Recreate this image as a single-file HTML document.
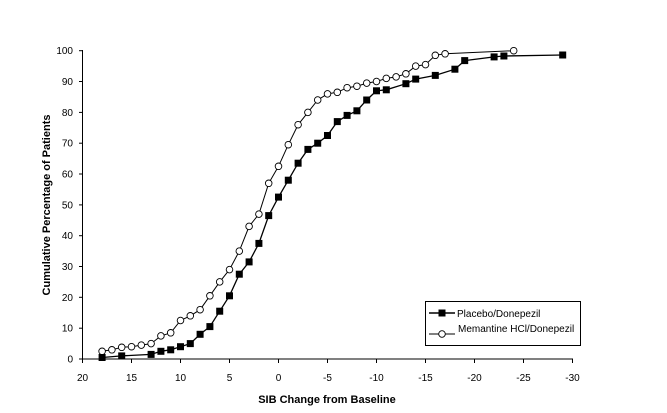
<!DOCTYPE html>
<html><head><style>body{margin:0;background:#fff}svg{display:block}text{font-family:"Liberation Sans",Arial,sans-serif;fill:#000}</style></head>
<body>
<svg width="667" height="413" viewBox="0 0 667 413" xmlns="http://www.w3.org/2000/svg">
<defs>
<circle id="c" r="3.3" fill="#fff" stroke="#000" stroke-width="0.9"/>
<rect id="s" x="-3.5" y="-3.5" width="7" height="7" fill="#000"/>
</defs>
<g stroke="#000">
<line x1="82.5" y1="50" x2="82.5" y2="359"/><line x1="82.5" y1="359" x2="573" y2="359"/>
<line x1="79" y1="359" x2="82.5" y2="359"/><line x1="79" y1="328.2" x2="82.5" y2="328.2"/><line x1="79" y1="297.3" x2="82.5" y2="297.3"/><line x1="79" y1="266.5" x2="82.5" y2="266.5"/><line x1="79" y1="235.7" x2="82.5" y2="235.7"/><line x1="79" y1="204.9" x2="82.5" y2="204.9"/><line x1="79" y1="174" x2="82.5" y2="174"/><line x1="79" y1="143.2" x2="82.5" y2="143.2"/><line x1="79" y1="112.4" x2="82.5" y2="112.4"/><line x1="79" y1="81.5" x2="82.5" y2="81.5"/><line x1="79" y1="50.7" x2="82.5" y2="50.7"/>
<line x1="82.5" y1="359" x2="82.5" y2="363"/><line x1="131.5" y1="359" x2="131.5" y2="363"/><line x1="180.5" y1="359" x2="180.5" y2="363"/><line x1="229.5" y1="359" x2="229.5" y2="363"/><line x1="278.5" y1="359" x2="278.5" y2="363"/><line x1="327.5" y1="359" x2="327.5" y2="363"/><line x1="376.5" y1="359" x2="376.5" y2="363"/><line x1="425.5" y1="359" x2="425.5" y2="363"/><line x1="474.5" y1="359" x2="474.5" y2="363"/><line x1="523.5" y1="359" x2="523.5" y2="363"/><line x1="572.5" y1="359" x2="572.5" y2="363"/>
</g>
<g font-size="10" text-anchor="end">
<text x="73" y="362.5">0</text><text x="73" y="331.7">10</text><text x="73" y="300.8">20</text><text x="73" y="270">30</text><text x="73" y="239.2">40</text><text x="73" y="208.4">50</text><text x="73" y="177.5">60</text><text x="73" y="146.7">70</text><text x="73" y="115.9">80</text><text x="73" y="85">90</text><text x="73" y="54.2">100</text>
</g>
<g font-size="10" text-anchor="middle">
<text x="82.5" y="381">20</text><text x="131.5" y="381">15</text><text x="180.5" y="381">10</text><text x="229.5" y="381">5</text><text x="278.5" y="381">0</text><text x="327.5" y="381">-5</text><text x="376.5" y="381">-10</text><text x="425.5" y="381">-15</text><text x="474.5" y="381">-20</text><text x="523.5" y="381">-25</text><text x="572.5" y="381">-30</text>
</g>
<polyline fill="none" stroke="#000" stroke-width="1" points="102.1,351.3 111.9,349.8 121.7,347.3 131.5,346.7 141.3,345.1 151.1,343.6 160.9,335.9 170.7,332.8 180.5,320.5 190.3,315.8 200.1,309.7 209.9,295.8 219.7,281.9 229.5,269.6 239.3,251.1 249.1,226.4 258.9,214.1 268.7,183.3 278.5,166.3 288.3,144.7 298.1,124.7 307.9,112.4 317.7,100 327.5,93.9 337.3,92.3 347.1,87.7 356.9,86.2 366.7,83.1 376.5,81.5 386.3,78.4 396.1,76.9 405.9,73.8 415.7,66.1 425.5,64.6 435.3,55.3 445.1,53.8 513.7,50.7"/>
<polyline fill="none" stroke="#000" stroke-width="1.3" points="102.1,357.5 121.7,355.9 151.1,354.4 160.9,351.3 170.7,349.8 180.5,346.7 190.3,343.6 200.1,334.3 209.9,326.6 219.7,311.2 229.5,295.8 239.3,274.2 249.1,261.9 258.9,243.4 268.7,215.6 278.5,197.1 288.3,180.2 298.1,163.2 307.9,149.4 317.7,143.2 327.5,135.5 337.3,121.6 347.1,115.4 356.9,110.8 366.7,100 376.5,90.8 386.3,89.8 405.9,83.7 415.7,79.1 435.3,75.4 454.9,69.2 464.7,60.6 494.1,56.9 503.9,56 562.7,55"/>
<g>
<use href="#c" x="102.1" y="351.3"/><use href="#c" x="111.9" y="349.8"/><use href="#c" x="121.7" y="347.3"/><use href="#c" x="131.5" y="346.7"/><use href="#c" x="141.3" y="345.1"/><use href="#c" x="151.1" y="343.6"/><use href="#c" x="160.9" y="335.9"/><use href="#c" x="170.7" y="332.8"/><use href="#c" x="180.5" y="320.5"/><use href="#c" x="190.3" y="315.8"/><use href="#c" x="200.1" y="309.7"/><use href="#c" x="209.9" y="295.8"/><use href="#c" x="219.7" y="281.9"/><use href="#c" x="229.5" y="269.6"/><use href="#c" x="239.3" y="251.1"/><use href="#c" x="249.1" y="226.4"/><use href="#c" x="258.9" y="214.1"/><use href="#c" x="268.7" y="183.3"/><use href="#c" x="278.5" y="166.3"/><use href="#c" x="288.3" y="144.7"/><use href="#c" x="298.1" y="124.7"/><use href="#c" x="307.9" y="112.4"/><use href="#c" x="317.7" y="100"/><use href="#c" x="327.5" y="93.9"/><use href="#c" x="337.3" y="92.3"/><use href="#c" x="347.1" y="87.7"/><use href="#c" x="356.9" y="86.2"/><use href="#c" x="366.7" y="83.1"/><use href="#c" x="376.5" y="81.5"/><use href="#c" x="386.3" y="78.4"/><use href="#c" x="396.1" y="76.9"/><use href="#c" x="405.9" y="73.8"/><use href="#c" x="415.7" y="66.1"/><use href="#c" x="425.5" y="64.6"/><use href="#c" x="435.3" y="55.3"/><use href="#c" x="445.1" y="53.8"/><use href="#c" x="513.7" y="50.7"/>
</g>
<g>
<use href="#s" x="102.1" y="357.5"/><use href="#s" x="121.7" y="355.9"/><use href="#s" x="151.1" y="354.4"/><use href="#s" x="160.9" y="351.3"/><use href="#s" x="170.7" y="349.8"/><use href="#s" x="180.5" y="346.7"/><use href="#s" x="190.3" y="343.6"/><use href="#s" x="200.1" y="334.3"/><use href="#s" x="209.9" y="326.6"/><use href="#s" x="219.7" y="311.2"/><use href="#s" x="229.5" y="295.8"/><use href="#s" x="239.3" y="274.2"/><use href="#s" x="249.1" y="261.9"/><use href="#s" x="258.9" y="243.4"/><use href="#s" x="268.7" y="215.6"/><use href="#s" x="278.5" y="197.1"/><use href="#s" x="288.3" y="180.2"/><use href="#s" x="298.1" y="163.2"/><use href="#s" x="307.9" y="149.4"/><use href="#s" x="317.7" y="143.2"/><use href="#s" x="327.5" y="135.5"/><use href="#s" x="337.3" y="121.6"/><use href="#s" x="347.1" y="115.4"/><use href="#s" x="356.9" y="110.8"/><use href="#s" x="366.7" y="100"/><use href="#s" x="376.5" y="90.8"/><use href="#s" x="386.3" y="89.8"/><use href="#s" x="405.9" y="83.7"/><use href="#s" x="415.7" y="79.1"/><use href="#s" x="435.3" y="75.4"/><use href="#s" x="454.9" y="69.2"/><use href="#s" x="464.7" y="60.6"/><use href="#s" x="494.1" y="56.9"/><use href="#s" x="503.9" y="56"/><use href="#s" x="562.7" y="55"/>
</g>
<rect x="425.5" y="301.5" width="155" height="44" fill="#fff" stroke="#000"/>
<line x1="429" y1="313" x2="455" y2="313" stroke="#000" stroke-width="1.5"/><use href="#s" x="442" y="313"/>
<text x="457" y="317" font-size="10">Placebo/Donepezil</text>
<line x1="429" y1="334" x2="455" y2="334" stroke="#000"/><use href="#c" x="442" y="334"/>
<text x="458" y="332" font-size="10">Memantine HCl/Donepezil</text>
<text x="327" y="403" font-size="11" font-weight="bold" text-anchor="middle">SIB Change from Baseline</text>
<text transform="translate(50,205) rotate(-90)" font-size="11" font-weight="bold" text-anchor="middle">Cumulative Percentage of Patients</text>
</svg>
</body></html>
